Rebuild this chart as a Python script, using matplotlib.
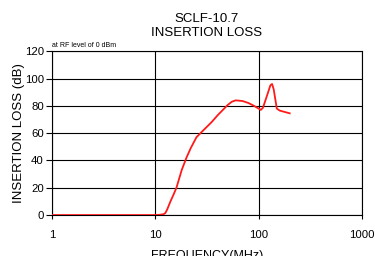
import matplotlib
matplotlib.use('Agg')
import matplotlib.pyplot as plt
import numpy as np

# Insertion loss curve
freq_mhz = [1, 10, 11, 12, 12.5, 13, 14, 15, 16, 18, 20, 22, 25, 30, 35, 40,
            50, 55, 60, 70, 80, 90, 100, 105, 110, 120, 130, 135, 140, 150, 160, 200]
loss_db = [0, 0, 0.2, 0.6, 1.5, 4, 10, 15, 20, 33, 42, 49, 57, 63, 68, 73,
           80.5, 83, 84, 83.5, 82, 80, 78, 77, 78.5, 87, 95, 96, 92, 78, 76.5, 74.5]

x_ticks = [1, 10, 100, 1000]
y_ticks = [0, 20, 40, 60, 80, 100, 120]

plt.rcParams['font.family'] = ['Liberation Sans', 'DejaVu Sans']

fig = plt.figure(figsize=(3.75, 2.56), dpi=100)
ax = fig.add_axes([0.139, 0.16, 0.826, 0.64])

ax.plot(freq_mhz, loss_db, color='#ff1a1a', linewidth=1.3, zorder=3)

ax.set_xscale('log')
ax.set_xlim(1, 1000)
ax.set_ylim(0, 120)
ax.set_xticks(x_ticks)
ax.set_xticklabels([str(v) for v in x_ticks])
ax.set_yticks(y_ticks)
ax.xaxis.set_minor_locator(matplotlib.ticker.NullLocator())
ax.tick_params(axis='x', labelsize=8.2, length=3, width=0.8, pad=8)
ax.tick_params(axis='y', labelsize=8.2, length=4, width=0.8, pad=2)
ax.grid(True, which='major', color='black', linewidth=0.8)

for s in ax.spines.values():
    s.set_linewidth(0.8)
    s.set_color('black')

ax.set_xlabel('FREQUENCY(MHz)', fontsize=9, labelpad=7)
ax.set_ylabel('INSERTION LOSS (dB)', fontsize=9.5, labelpad=0)
ax.set_title('SCLF-10.7\nINSERTION LOSS', fontsize=9.5, linespacing=1.2, pad=11)
ax.text(0.0, 1.015, 'at RF level of 0 dBm', transform=ax.transAxes,
        fontsize=5, ha='left', va='bottom')

fig.savefig('out.png', dpi=100)
